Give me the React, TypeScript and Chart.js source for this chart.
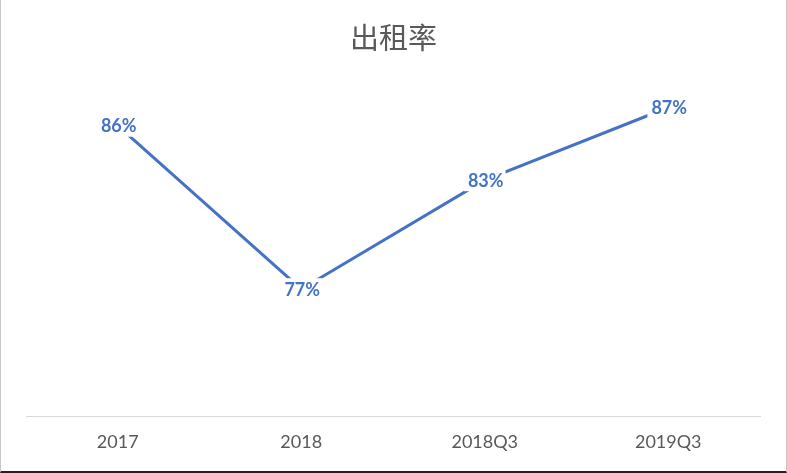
import React, { useEffect, useRef } from "react";
import { Chart, registerables } from "chart.js";

Chart.register(...registerables);

const categories = ["2017", "2018", "2018Q3", "2019Q3"];
const occupancy = [86, 77, 83, 87];
const titleText = "出租率";

const BLUE = "#4472C4";
const GRAY = "#595959";

const labelPlugin = {
  id: "pctLabels",
  afterDatasetsDraw(chart: any) {
    const ctx = chart.ctx;
    const meta = chart.getDatasetMeta(0);
    ctx.save();
    ctx.font = "bold 18px Lato, 'Open Sans', sans-serif";
    ctx.textAlign = "center";
    ctx.textBaseline = "middle";
    meta.data.forEach((pt: any, i: number) => {
      const txt = occupancy[i] + "%";
      const w = ctx.measureText(txt).width;
      ctx.fillStyle = "#ffffff";
      ctx.fillRect(pt.x - w / 2 - 3, pt.y - 11, w + 6, 22);
      ctx.fillStyle = BLUE;
      ctx.fillText(txt, pt.x + 1, pt.y + 1);
    });
    ctx.restore();
  },
};

const titlePlugin = {
  id: "cjkTitle",
  afterDraw(chart: any) {
    const ctx = chart.ctx;
    ctx.save();
    ctx.font = "29px 'Noto Sans CJK SC', sans-serif";
    ctx.fillStyle = GRAY;
    ctx.textAlign = "center";
    ctx.textBaseline = "middle";
    ctx.fillText(titleText, chart.width / 2, 38);
    ctx.restore();
  },
};

export default function App() {
  const ref = useRef<HTMLCanvasElement | null>(null);
  useEffect(() => {
    if (!ref.current) return;
    const chart = new Chart(ref.current, {
      type: "line",
      data: {
        labels: categories,
        datasets: [
          {
            data: occupancy,
            borderColor: BLUE,
            borderWidth: 3,
            pointRadius: 0,
            tension: 0,
            fill: false,
          },
        ],
      },
      options: {
        animation: false,
        responsive: true,
        maintainAspectRatio: false,
        layout: { padding: { top: 53, bottom: 3, left: 25, right: 26 } },
        plugins: { legend: { display: false }, tooltip: { enabled: false }, title: { display: false } },
        scales: {
          x: {
            offset: true,
            grid: { display: false, drawTicks: false },
            border: { display: true, color: "#d9d9d9", width: 1 },
            ticks: {
              color: GRAY,
              padding: 15,
              font: { family: "Lato, 'Open Sans', sans-serif", size: 18 },
            },
          },
          y: { display: false, min: 70, max: 90 },
        },
      },
      plugins: [labelPlugin, titlePlugin],
    });
    return () => chart.destroy();
  }, []);
  return (
    <div
      style={{
        position: "absolute",
        left: 0,
        top: 0,
        width: 787,
        height: 473,
        background: "#fff",
        boxSizing: "border-box",
        borderLeft: "1px solid #c8c8c8",
        borderRight: "1px solid #c8c8c8",
        borderBottom: "2px solid #222",
      }}
    >
      <canvas ref={ref} />
    </div>
  );
}
